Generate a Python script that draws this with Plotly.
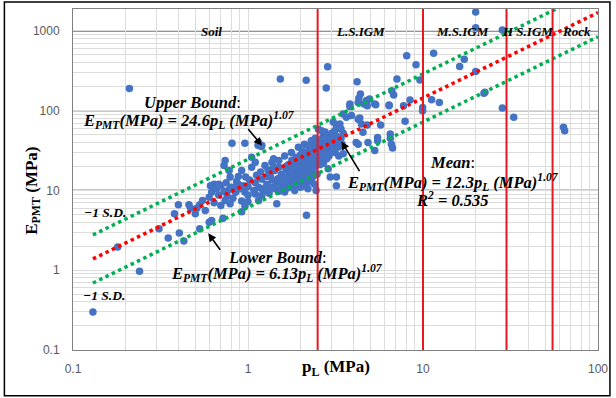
import math
import plotly.graph_objects as go

# ---------------- data ----------------
# Soil zone (pL < 2.5 MPa)
soil_pl = [0.13, 0.18, 0.21, 0.24, 0.31, 0.35, 0.38, 0.40, 0.405, 0.43, 0.46, 0.47, 0.5, 0.51, 0.53, 0.53,
           0.6, 0.62, 0.55, 0.57,
           0.6, 0.62, 0.64, 0.66, 0.68, 0.7, 0.7, 0.72, 0.73, 0.74, 0.75, 0.76, 0.78, 0.79, 0.8, 0.61, 0.64,
           0.68, 0.74, 0.73, 0.78, 0.79, 0.81, 0.96, 1.14, 1.19,
           0.82, 0.85, 0.86, 0.88, 0.9, 0.92, 0.92, 0.92, 0.94, 0.96, 0.96, 0.97, 1.0, 1.0, 1.0, 1.02, 1.05,
           1.05, 1.08, 1.1, 1.1, 1.12, 1.15, 1.15, 1.15, 1.18, 1.2, 1.2, 1.2, 0.88, 0.84,
           1.25, 1.25, 1.28, 1.3, 1.32, 1.34, 1.35, 1.37, 1.38, 1.4, 1.42, 1.42, 1.45, 1.46, 1.48, 1.5, 1.5,
           1.5, 1.52, 1.55, 1.55, 1.58, 1.6, 1.62, 1.62, 1.65, 1.65, 1.68, 1.7, 1.71, 1.72, 1.75, 1.77, 1.78, 1.53,
           1.82, 1.85, 1.85, 1.88, 1.9, 1.92, 1.94, 1.95, 1.98, 2.0, 2.0, 2.02, 2.05, 2.05, 2.08, 2.1, 2.1,
           2.12, 2.15, 2.16, 2.15, 2.18, 2.2, 2.2, 2.22, 2.25, 2.25, 2.28, 2.3, 2.3, 2.32, 2.35, 2.35, 2.38,
           2.4, 2.4, 2.42, 2.45, 2.45, 2.48,
           1.6, 1.7, 1.8, 1.9, 2.0, 2.1, 2.2, 2.3, 2.4, 1.65, 1.75, 1.85, 1.95, 2.05, 2.15, 2.25, 2.35, 2.45,
           1.3, 1.4, 1.2, 1.1]
soil_e = [0.30, 1.96, 190, 0.97, 3.3, 2.54, 5.1, 6.6, 2.93, 2.33, 6.6, 6.0, 5.1, 6.0, 6.6, 3.3,
          4.0, 4.2, 7.5, 5.6,
          8.2, 9.5, 7.0, 10.5, 8.8, 6.5, 11.5, 4.5, 9.8, 7.5, 12.5, 8.5, 10.2, 6.8, 11, 11.5, 12,
          12, 23.7, 20.5, 17.8, 14.7, 39, 39, 37, 35.6,
          8.0, 9.5, 13, 12, 10.5, 7.4, 17.8, 5.4, 11.5, 6.4, 9.6, 14.7, 8.7, 7.2, 11.2, 13.5, 26,
          19.5, 10, 22.6, 12.5, 15.5, 7.5, 40, 11, 17, 8.7, 36.5, 13.8, 15, 11,
          20.5, 10, 12, 15, 9.2, 15.3, 11, 22.6, 13.5, 24.9, 17.8, 10.5, 12.5, 6.8, 14, 23.7, 19.6,
          9.8, 10.1, 16, 12, 13.5, 10.5, 9.6, 27, 18, 14.5, 11.5, 21, 18.7, 15.5, 12.8, 30, 24, 250,
          17, 20.5, 14, 26, 11.5, 22, 34.8, 18.5, 15.5, 28, 24, 13, 20, 31, 17.5, 26, 38,
          22, 15, 4.9, 240, 29, 36.5, 19, 25, 33, 14, 21, 28, 42, 17, 24, 31, 36,
          19.5, 27, 45, 22, 33, 16,
          12.5, 10.8, 12, 16.5, 11, 12.5, 10.5, 13, 12, 20, 17, 10, 13.5, 15, 11.5, 18, 15, 10,
          18, 20, 10.5, 9]

# Low-strength IGM zone (2.5 - 10 MPa)
ls_pl = [2.5, 2.5, 2.52, 2.55, 2.55, 2.58, 2.63, 2.65, 2.65, 2.68, 2.7, 2.72, 2.75, 2.75, 2.78, 2.8, 2.8,
         2.85, 2.87, 2.88, 2.9, 2.92, 2.95, 2.95, 3.0, 3.0, 3.05, 3.07, 3.1, 3.13, 3.15, 3.2, 3.2, 3.2, 3.2,
         3.25, 3.3, 3.35, 3.4, 3.4, 3.45, 3.5, 3.5, 3.5,
         2.6, 2.7, 2.8, 2.9, 3.0, 3.1, 2.62, 2.72, 2.82, 2.98, 3.08, 3.3,
         3.65, 3.82, 3.82, 3.9, 4.15, 4.2, 4.26, 4.26, 4.26, 4.35, 4.3, 4.39, 4.45, 4.54, 4.6, 4.75,
         4.8, 4.85, 4.95, 4.8, 5.3, 5.3, 5.37, 5.5, 5.5, 5.73, 6.4, 6.5, 6.5, 6.6, 6.7, 6.63, 6.8, 6.4,
         7.1, 7.74, 7.9, 8.07, 8.43, 9.12, 9.6, 9.95, 9.95]
ls_e = [29, 40, 59, 25, 35, 21, 56, 30, 45, 38, 26, 50, 54, 33, 42, 29, 192,
        355, 18.7, 37, 47, 31, 14.7, 40, 35, 52, 44, 72, 38, 56, 30, 11.5, 14.7, 65, 48,
        41, 35, 68, 59, 45, 38, 91, 28.8, 52,
        24, 22, 36, 27, 30, 44, 43, 35, 25, 40, 33, 27,
        83, 121, 113, 87, 40, 230, 127, 78, 38, 81, 143, 162, 68, 53.7, 121, 134,
        66, 40, 140, 115, 121, 31.6, 119, 46, 42, 66, 118, 51, 45, 38, 34, 178, 157, 115,
        250, 115, 74, 487, 136, 376, 242, 110, 100]

# Medium-strength IGM zone (10 - 30 MPa)
ms_pl = [11.2, 11.5, 12.4, 16.2, 17.2, 20, 20, 20, 22.3, 22.6, 28.4, 28.4]
ms_e = [137, 526, 127, 359, 443, 1728, 1100, 311, 166, 170, 1030, 108]

# High-strength IGM and rock zones
hs_pl = [33]
hs_e = [83]
rock_pl = [63.5, 64.5]
rock_e = [62, 56]

# fitted power laws  E = a * pL^b
fit_b = 1.07
fit_a_mean = 12.3
fit_a_upper = 24.6
fit_a_lower = 6.13
fit_pl = [0.13, 100]

# zone boundaries (MPa) and zone labels
zone_bounds = [2.5, 10, 30, 55]
zone_names = ["Soil", "L.S.IGM", "M.S.IGM", "H S.IGM", "Rock"]
zone_label_pl = [0.62, 4.4, 16.8, 39.8, 75.7]

x_tick_major = [0.1, 1, 10, 100]
y_tick_major = [0.1, 1, 10, 100, 1000]

# ---------------- figure ----------------
W, H = 616, 398
ML, MR, MT, MB = 73, 15, 8, 48
PW, PH = W - ML - MR, H - MT - MB


def P(px, py):
    return (px - ML) / PW, (H - MB - py) / PH


all_pl = soil_pl + ls_pl + ms_pl + hs_pl + rock_pl
all_e = soil_e + ls_e + ms_e + hs_e + rock_e

fig = go.Figure()
fig.add_trace(go.Scatter(x=all_pl, y=all_e, mode="markers",
                         marker=dict(size=7.5, color="#4472C4"), showlegend=False))


def fit(a):
    return [a * p ** fit_b for p in fit_pl]


fig.add_trace(go.Scatter(x=fit_pl, y=fit(fit_a_upper), mode="lines",
                         line=dict(color="#00B050", width=3.5, dash="dot"), showlegend=False))
fig.add_trace(go.Scatter(x=fit_pl, y=fit(fit_a_lower), mode="lines",
                         line=dict(color="#00B050", width=3.5, dash="dot"), showlegend=False))
fig.add_trace(go.Scatter(x=fit_pl, y=fit(fit_a_mean), mode="lines",
                         line=dict(color="#FF0000", width=3.5, dash="dot"), showlegend=False))


def grid_vals(lo_exp, hi_exp):
    vals = []
    for d in range(lo_exp, hi_exp):
        for k in range(1, 10):
            vals.append(k * 10 ** d)
    vals.append(10 ** hi_exp)
    return vals


xv = grid_vals(-1, 2)
yv = grid_vals(-1, 3)
xt = [(("%g" % v) if v in x_tick_major else "") for v in xv]
yt = [(("%g" % v) if v in y_tick_major else "") for v in yv]

tickfont = dict(family="Liberation Sans", size=12, color="#595959")
fig.update_xaxes(type="log", range=[-1, 2], tickvals=xv, ticktext=xt, showgrid=True,
                 gridcolor="#DCDCDC", gridwidth=1, zeroline=False, showline=True, mirror=True,
                 linecolor="#808080", linewidth=1, ticks="", tickfont=tickfont, ticklabelstandoff=8)
fig.update_yaxes(type="log", range=[-1, 3.275], tickvals=yv, ticktext=yt, showgrid=True,
                 gridcolor="#DCDCDC", gridwidth=1, zeroline=False, showline=True, mirror=True,
                 linecolor="#808080", linewidth=1, ticks="", tickfont=tickfont, ticklabelstandoff=10)

shapes = []
for yv_major in [10, 100, 1000]:
    shapes.append(dict(type="line", xref="paper", yref="y", x0=0, x1=1, y0=yv_major, y1=yv_major,
                       line=dict(color="#2b2b2b", width=1.3), layer="below"))
for xb in zone_bounds:
    shapes.append(dict(type="line", xref="x", yref="paper", x0=xb, x1=xb, y0=0, y1=1,
                       line=dict(color="#E8191E", width=2), layer="above"))
# outer frame
fx0, fy1 = P(4, 1)
fx1, fy0 = P(613, 396)
shapes.append(dict(type="rect", xref="paper", yref="paper", x0=fx0, x1=fx1, y0=fy0, y1=fy1,
                   line=dict(color="black", width=1.5)))

SER = "Liberation Serif"
ann = []
for name, pl in zip(zone_names, zone_label_pl):
    ann.append(dict(x=math.log10(pl), y=P(0, 21)[1], xref="x", yref="paper", text="<b><i>%s</i></b>" % name,
                    showarrow=False, font=dict(family=SER, size=13, color="black")))


def txt(px, py, text, size=16.5, anchor="center"):
    x, y = P(px, py)
    ann.append(dict(x=x, y=y, xref="paper", yref="paper", text=text, showarrow=False,
                    xanchor=anchor, yanchor="middle", font=dict(family=SER, size=size, color="black")))


def arrow(tx, ty, hx, hy):
    x, y = P(hx, hy)
    ann.append(dict(x=x, y=y, xref="paper", yref="paper", text="", showarrow=True,
                    ax=tx - hx, ay=ty - hy, arrowhead=2, arrowsize=1, arrowwidth=1.6, arrowcolor="black"))


txt(193, 102, "<b><i>Upper Bound</i></b>:")
txt(190, 119, "<b><i>E<sub>PMT</sub>(MPa) = 24.6p<sub>L</sub> (MPa)<sup>1.07</sup></i></b>")
txt(455, 162, "<b><i>Mean</i></b>:")
txt(455, 182, "<b><i>E<sub>PMT</sub>(MPa) = 12.3p<sub>L</sub> (MPa)<sup>1.07</sup></i></b>")
txt(455, 199, "<b><i>R<sup>2</sup> = 0.535</i></b>")
txt(279, 257, "<b><i>Lower Bound</i></b>:")
txt(278, 273, "<b><i>E<sub>PMT</sub>(MPa) = 6.13p<sub>L</sub> (MPa)<sup>1.07</sup></i></b>")
txt(82, 212, "<b><i>\u22121 S.D.</i></b>", size=13.5, anchor="left")
txt(81, 295, "<b><i>\u22121 S.D.</i></b>", size=13.5, anchor="left")

arrow(248, 127, 263, 145)
arrow(362, 172, 343, 141)
arrow(222, 251, 209, 233)

# axis titles
yx, yy = P(20, 190)
ann.append(dict(x=yx, y=yy, xref="paper", yref="paper", text="<b>E<sub>PMT</sub> (MPa)</b>",
                textangle=-90, showarrow=False, font=dict(family=SER, size=17, color="black")))
xx, xy = P(338, 381)
ann.append(dict(x=xx, y=xy, xref="paper", yref="paper", text="<b>p<sub>L</sub> (MPa)</b>",
                showarrow=False, font=dict(family=SER, size=17, color="black")))

fig.update_layout(width=W, height=H, margin=dict(l=ML, r=MR, t=MT, b=MB),
                  paper_bgcolor="white", plot_bgcolor="white", shapes=shapes, annotations=ann,
                  showlegend=False)

fig.write_html("out.html")
